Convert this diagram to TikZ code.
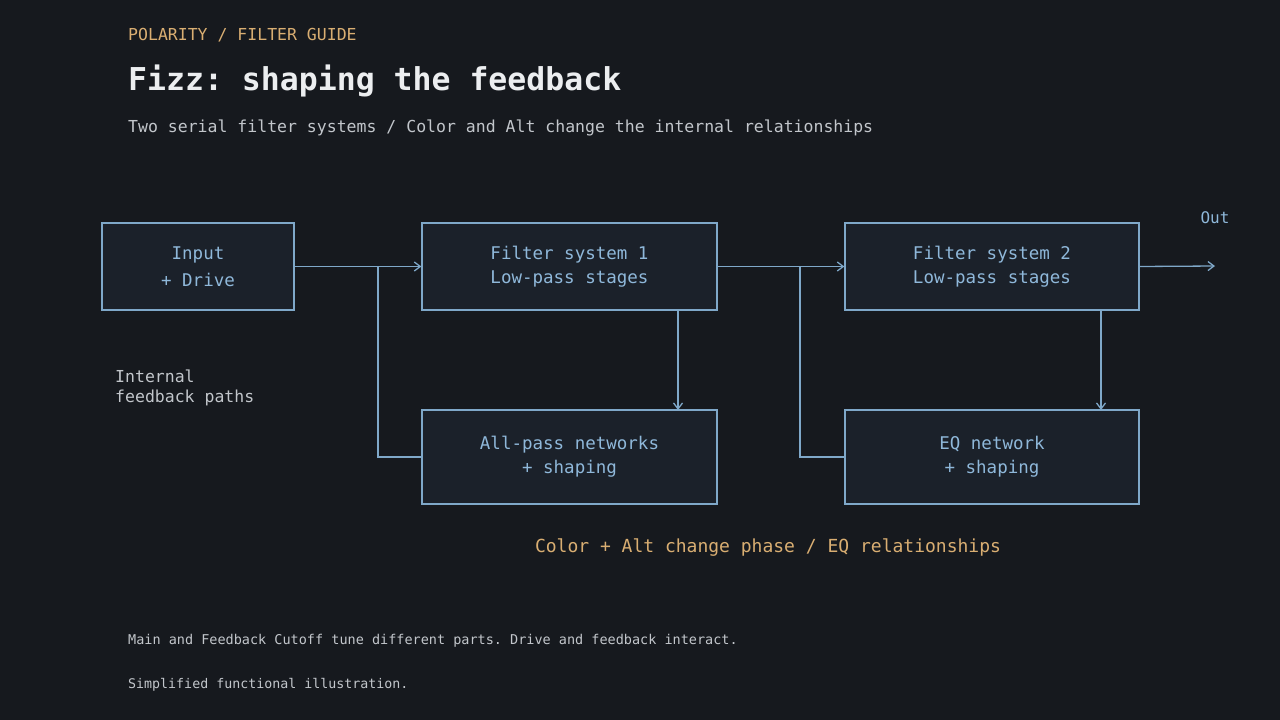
\documentclass[tikz,border=0pt]{standalone}
\usepackage{fontspec}
\setmonofont{DejaVu Sans Mono}
\usetikzlibrary{arrows.meta}
\definecolor{bg}{HTML}{16191E}
\definecolor{boxf}{HTML}{1B212A}
\definecolor{edge}{HTML}{7FA8C9}
\definecolor{txtb}{HTML}{8FB8DA}
\definecolor{gold}{HTML}{D9AE72}
\definecolor{gry}{HTML}{C2C6CB}
\definecolor{wht}{HTML}{ECEEF0}
\begin{document}
\begin{tikzpicture}[x=1pt,y=-1pt,
  box/.style={draw=edge,fill=boxf,line width=1.3pt,inner sep=0pt,align=center,text=txtb,font=\ttfamily\fontsize{17.5}{27}\selectfont},
  ln/.style={draw=edge,line width=1.3pt},
  ar/.style={ln,-{Straight Barb[length=6pt,width=9pt]}},
  lbl/.style={anchor=base west,inner sep=0pt}]
\fill[bg] (0,0) rectangle (1280,720);
\useasboundingbox (0,0) rectangle (1280,720);
\node[lbl,text=gold,font=\ttfamily\fontsize{16.5}{20}\selectfont] (k) at (128,40) {POLARITY / FILTER GUIDE};
\node[lbl,text=wht,font=\ttfamily\bfseries\fontsize{31.5}{36}\selectfont] (t) at (128,90) {Fizz: shaping the feedback};
\node[lbl,text=gry,font=\ttfamily\fontsize{16.5}{20}\selectfont] (s) at (128,132) {Two serial filter systems / Color and Alt change the internal relationships};
\node[box,minimum width=192pt,minimum height=87pt] (in) at (198,266.5) {Input\\+ Drive};
\node[box,minimum width=295pt,minimum height=87pt] (f1) at (569.5,266.5) {Filter system 1\\[-3pt]Low-pass stages};
\node[box,minimum width=294pt,minimum height=87pt] (f2) at (992,266.5) {Filter system 2\\[-3pt]Low-pass stages};
\node[box,minimum width=295pt,minimum height=94pt] (ap) at (569.5,457) {All-pass networks\\[-3pt]+ shaping};
\node[box,minimum width=294pt,minimum height=94pt] (eq) at (992,457) {EQ network\\[-3pt]+ shaping};
\coordinate (out) at (1215,266);
\coordinate (b1) at (378,266);
\coordinate (b2) at (800,266);
\draw[ar] (in.east) -- (f1.west);
\draw[ar] (f1.east) -- (f2.west);
\draw[ar] (f2.east) -- (out);
\draw[ln] (b1) |- (ap.west);
\draw[ln] (b2) |- (eq.west);
\draw[ar] (678,310) -- (678,410);
\draw[ar] (1101,310) -- (1101,410);
\node[text=txtb,font=\ttfamily\fontsize{16}{20}\selectfont] (o) at (1215,218) {Out};
\node[anchor=north west,inner sep=0pt,align=left,text=gry,font=\ttfamily\fontsize{16.5}{20}\selectfont] (ifp) at (115,370) {Internal\\feedback paths};
\node[text=gold,font=\ttfamily\fontsize{18}{22}\selectfont] (c) at (768,548) {Color + Alt change phase / EQ relationships};
\node[lbl,text=gry,font=\ttfamily\fontsize{13.5}{16}\selectfont] (f) at (128,644) {Main and Feedback Cutoff tune different parts. Drive and feedback interact.};
\node[lbl,text=gry,font=\ttfamily\fontsize{13.3}{16}\selectfont] (g) at (128,688) {Simplified functional illustration.};
\end{tikzpicture}
\end{document}
